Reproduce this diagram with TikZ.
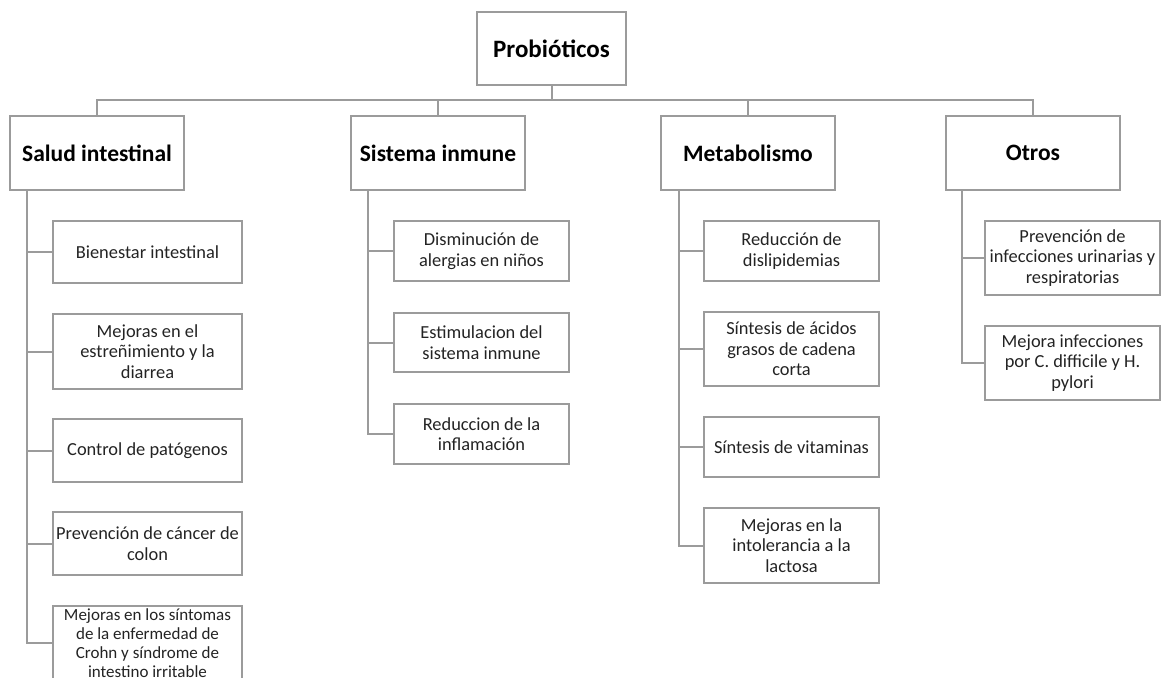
\documentclass[tikz,border=0pt]{standalone}
\usepackage{fontspec}
\setmainfont{Carlito}
\usetikzlibrary{positioning,calc}
\definecolor{linegray}{RGB}{155,155,155}
\definecolor{textdark}{RGB}{35,35,35}
\tikzset{
    rootbox/.style = {draw=linegray, line width=2pt, rectangle,
        minimum width=149pt, minimum height=73pt, inner sep=0pt,
        align=center, font=\fontsize{25}{29}\selectfont\bfseries},
    catbox/.style = {draw=linegray, line width=2pt, rectangle,
        minimum width=174pt, minimum height=74pt, inner sep=0pt,
        align=center, font=\fontsize{23.5}{28}\selectfont\bfseries},
    itembox/.style = {draw=linegray, line width=2pt, rectangle,
        minimum width=175pt, minimum height=61pt, inner sep=0pt,
        align=center, text=textdark, font=\fontsize{18.4}{20.5}\selectfont},
    tallbox/.style = {itembox, minimum height=75pt},
    link/.style = {draw=linegray, line width=2pt}
}

\begin{document}
\begin{tikzpicture}[x=1pt, y=-1pt]
    \useasboundingbox (0,0) rectangle (1161,677);
    \clip (0,0) rectangle (1161,677);
    % top and categories
    \node [rootbox] (root) at (551.5,48.5) {Probióticos};
    \node [catbox] (salud) at (97,153) {Salud intestinal};
    \node [catbox] (inmune) at (438,153) {Sistema inmune};
    \node [catbox] (metab) at (748,153) {Metabolismo};
    \node [catbox] (otros) at (1033,153) {Otros};
    \coordinate (bus) at (551.5,100);
    \draw [link] (root.south) -- (bus);
    \draw [link] (salud.north) |- (bus) -| (otros.north);
    \draw [link] (inmune.north) -- (inmune.north |- bus);
    \draw [link] (metab.north) -- (metab.north |- bus);
    % salud intestinal
    \node [itembox, minimum width=189pt, minimum height=62pt] (s1) at (147.5,252) {Bienestar intestinal};
    \node [tallbox, minimum width=189pt] (s2) at (147.5,351.5) {Mejoras en el\\estreñimiento y la\\diarrea};
    \node [itembox, minimum width=189pt, minimum height=63pt] (s3) at (147.5,450.5) {Control de patógenos};
    \node [itembox, minimum width=189pt, minimum height=63pt] (s4) at (147.5,543.5) {Prevención de cáncer de\\colon};
    \node [tallbox, minimum width=189pt, font=\fontsize{17}{19}\selectfont] (s5) at (147.5,643) {Mejoras en los síntomas\\de la enfermedad de\\Crohn y síndrome de\\intestino irritable};
    % sistema inmune
    \node [itembox, minimum height=60pt] (i1) at (481.5,251) {Disminución de\\alergias en niños};
    \node [itembox, minimum height=59pt] (i2) at (481.5,342.5) {Estimulacion del\\sistema inmune};
    \node [itembox, minimum height=60pt] (i3) at (481.5,434) {Reduccion de la\\inflamación};
    % metabolismo
    \node [itembox, minimum height=60pt] (m1) at (791.5,251) {Reducción de\\dislipidemias};
    \node [tallbox, minimum height=74pt] (m2) at (791.5,349) {Síntesis de ácidos\\grasos de cadena\\corta};
    \node [itembox, minimum height=60pt] (m3) at (791.5,447) {Síntesis de vitaminas};
    \node [tallbox] (m4) at (791.5,545.5) {Mejoras en la\\intolerancia a la\\lactosa};
    % otros
    \node [tallbox, minimum height=74pt] (o1) at (1072.5,258) {Prevención de\\infecciones urinarias y\\respiratorias};
    \node [tallbox, minimum height=74pt] (o2) at (1072.5,363) {Mejora infecciones\\por C. difficile y H.\\pylori};
    % spines
    \coordinate (sspine) at ($(salud.south west)+(18,0)$);
    \coordinate (ispine) at ($(inmune.south west)+(18,0)$);
    \coordinate (mspine) at ($(metab.south west)+(19,0)$);
    \coordinate (ospine) at ($(otros.south west)+(17,0)$);
    \draw [link] (sspine) |- (s5.west);
    \draw [link] (ispine) |- (i3.west);
    \draw [link] (mspine) |- (m4.west);
    \draw [link] (ospine) |- (o2.west);
    \foreach \n in {s1,s2,s3,s4} \draw [link] (\n.west) -- (\n.west -| sspine);
    \foreach \n in {i1,i2} \draw [link] (\n.west) -- (\n.west -| ispine);
    \foreach \n in {m1,m2,m3} \draw [link] (\n.west) -- (\n.west -| mspine);
    \draw [link] (o1.west) -- (o1.west -| ospine);
\end{tikzpicture}
\end{document}
